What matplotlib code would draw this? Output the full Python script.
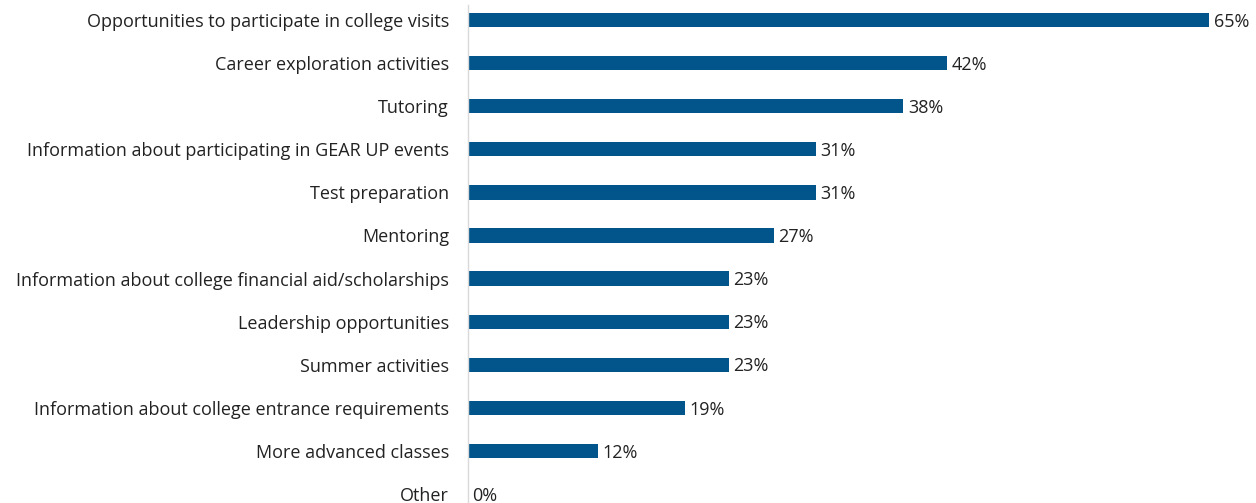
import matplotlib.pyplot as plt

# data
categories = [
    "Opportunities to participate in college visits",
    "Career exploration activities",
    "Tutoring",
    "Information about participating in GEAR UP events",
    "Test preparation",
    "Mentoring",
    "Information about college financial aid/scholarships",
    "Leadership opportunities",
    "Summer activities",
    "Information about college entrance requirements",
    "More advanced classes",
    "Other",
]
# bar lengths as measured; labels show the rounded percentages
bar_lengths = [65, 42, 38.2, 30.5, 30.5, 26.8, 22.9, 22.9, 22.9, 19, 11.4, 0]
value_labels = ["65%", "42%", "38%", "31%", "31%", "27%", "23%", "23%", "23%", "19%", "12%", "0%"]

bar_color = "#02558B"
plt.rcParams['font.family'] = ['Open Sans', 'DejaVu Sans']

fig = plt.figure(figsize=(12.56, 5.03), dpi=100)
ax = fig.add_axes([468 / 1256, 0, (1209 - 468) / 1256, 1 - 5 / 503])

pos = list(range(len(categories)))
ax.barh(pos, bar_lengths, height=0.33, color=bar_color)

for y, v, lab in zip(pos, bar_lengths, value_labels):
    ax.text(v + 0.4, y + 0.04, lab, va="center", ha="left", fontsize=13,
            color="#222222", clip_on=False)

ax.set_xlim(0, 65)
ax.set_ylim(11.21, -0.35)
ax.set_yticks(pos)
ax.set_yticklabels(categories, fontsize=13, color="#222222")
ax.tick_params(axis="y", length=0, pad=13.7)
ax.set_xticks([])

for side in ["top", "right", "bottom"]:
    ax.spines[side].set_visible(False)
ax.spines["left"].set_color("#D9D9D9")
ax.spines["left"].set_linewidth(1)

plt.savefig("out.png", dpi=100)
